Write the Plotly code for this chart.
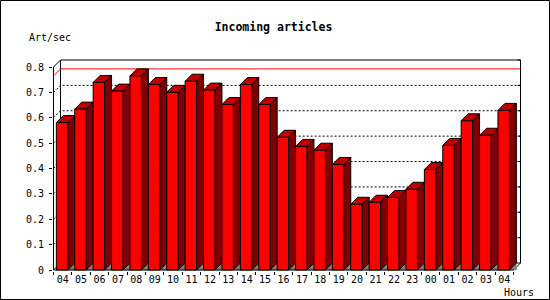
import plotly.graph_objects as go

# ---------------- data ----------------
hours = ["04", "05", "06", "07", "08", "09", "10", "11", "12", "13", "14", "15", "16",
         "17", "18", "19", "20", "21", "22", "23", "00", "01", "02", "03", "04"]
rates = [0.581, 0.634, 0.739, 0.705, 0.765, 0.731, 0.700, 0.744, 0.709, 0.652, 0.731, 0.652,
         0.523, 0.487, 0.472, 0.416, 0.259, 0.267, 0.286, 0.318, 0.396, 0.491, 0.588, 0.531, 0.629]
y_ticks = [0, 0.1, 0.2, 0.3, 0.4, 0.5, 0.6, 0.7, 0.8]
y_tick_text = ["0", "0.1", "0.2", "0.3", "0.4", "0.5", "0.6", "0.7", "0.8"]
title_text = "Incoming articles"
y_title = "Art/sec"
x_title = "Hours"

# ---------------- layout constants ----------------
W, H = 550, 300
ML, MR, MT, MB = 53, 25, 57, 29
SLOT_PX = 18.4          # pixels per category slot
UNIT_PX = 253.75        # pixels per 1.0 of value
DEPTH_PX = 7            # 3D depth offset in pixels
X0_PX = 53.5            # pixel of left edge of first slot
Y0_PX = 270             # pixel of value 0
FRONT_L, FRONT_R = -0.345, 0.275   # front face extents relative to slot centre
FONT = "DejaVu Sans Mono"

n = len(rates)
dx = DEPTH_PX / SLOT_PX
dy = DEPTH_PX / UNIT_PX
x_left = -0.5
x_right = n - 0.5
y_top = y_ticks[-1]

xr = [x_left - (X0_PX - ML) / SLOT_PX, x_left + (W - MR - X0_PX) / SLOT_PX]
yr = [-(H - MB - Y0_PX) / UNIT_PX, (Y0_PX - MT) / UNIT_PX]

fig = go.Figure()


def add_path(xs, ys, color="black", dash=None, fill=None, fillcolor=None, width=1):
    fig.add_trace(go.Scatter(
        x=xs, y=ys, mode="lines", hoverinfo="skip", showlegend=False,
        line=dict(color=color, width=width, dash=dash),
        fill=fill, fillcolor=fillcolor,
    ))


# back plane (white) with frame
bx0, bx1 = x_left + dx, x_right + dx
add_path([bx0, bx1, bx1, bx0, bx0], [dy, dy, y_top + dy, y_top + dy, dy],
         fill="toself", fillcolor="white")

# dotted grid lines (front axis -> back plane -> across)
gx, gy = [], []
for v in y_ticks[1:-1]:
    gx += [x_left, x_left + dx, bx1, None]
    gy += [v, v + dy, v + dy, None]
add_path(gx, gy, dash="2px,2px")

# right-side tick marks on the back plane
rx, ry = [], []
for v in y_ticks[1:]:
    rx += [bx1 - 3 / SLOT_PX, bx1, None]
    ry += [v + dy, v + dy, None]
add_path(rx, ry)

# top-left diagonal of frame and floor diagonals
add_path([x_left, x_left + dx], [y_top, y_top + dy])
add_path([x_left, x_left + dx], [0, dy])
add_path([x_right, x_right + dx], [0, dy])

# maximum line (red)
m = max(rates)
add_path([x_left, x_left + dx, bx1], [m, m + dy, m + dy], color="red")

# bars: floor triangles, sides, tops, fronts
fx, fy, sx, sy, tx, ty, px, py = [], [], [], [], [], [], [], []
for i, v in enumerate(rates):
    a, b = i + FRONT_L, i + FRONT_R
    fx += [b, b + dx, b + dx, b, None]
    fy += [0, 0, dy, 0, None]
    sx += [b, b + dx, b + dx, b, b, None]
    sy += [0, dy, v + dy, v, 0, None]
    tx += [a, b, b + dx, a + dx, a, None]
    ty += [v, v, v + dy, v + dy, v, None]
    px += [a, b, b, a, a, None]
    py += [0, 0, v, v, 0, None]
add_path(fx, fy, color="#808080", fill="toself", fillcolor="#808080", width=0.5)
add_path(sx, sy, fill="toself", fillcolor="#800000")
add_path(tx, ty, fill="toself", fillcolor="#C00000")
add_path(px, py, fill="toself", fillcolor="#FF0000")

# front axes lines
add_path([x_left, x_left], [0, y_top])
add_path([x_left, x_right], [0, 0])

fig.update_layout(
    width=W, height=H,
    margin=dict(l=ML, r=MR, t=MT, b=MB),
    paper_bgcolor="white", plot_bgcolor="white",
    font=dict(family=FONT, size=10, color="black"),
    title=dict(text=title_text, x=273.5 / W, xref="container", xanchor="center",
               y=1 - 27 / H, yref="container", yanchor="middle",
               font=dict(family=FONT, size=11.5, color="black", weight="bold")),
    xaxis=dict(range=xr, showgrid=False, zeroline=False, showline=False,
               tickmode="array", tickvals=list(range(n)), ticktext=hours,
               ticks="", tickfont=dict(family=FONT, size=10), ticklabelstandoff=1,
               minor=dict(tickmode="array", tickvals=[k - 0.5 for k in range(n + 1)],
                          ticks="outside", ticklen=3, tickcolor="black", showgrid=False),
               fixedrange=True),
    yaxis=dict(range=yr, showgrid=False, zeroline=False, showline=False,
               tickmode="array", tickvals=y_ticks, ticktext=y_tick_text,
               ticks="outside", ticklen=3, tickcolor="black", ticklabelstandoff=3,
               tickfont=dict(family=FONT, size=10), fixedrange=True),
    annotations=[
        dict(text=y_title, xref="paper", yref="paper",
             x=(50 - ML) / (W - ML - MR), y=(H - MB - 37) / (H - MT - MB),
             xanchor="center", yanchor="middle", showarrow=False,
             font=dict(family=FONT, size=10)),
        dict(text=x_title, xref="paper", yref="paper",
             x=(518.5 - ML) / (W - ML - MR), y=(H - MB - 292) / (H - MT - MB),
             xanchor="center", yanchor="middle", showarrow=False,
             font=dict(family=FONT, size=10)),
    ],
    shapes=[dict(type="rect", xref="paper", yref="paper",
                 x0=(0.5 - ML) / (W - ML - MR), x1=(W - 0.5 - ML) / (W - ML - MR),
                 y0=(H - MB - (H - 0.5)) / (H - MT - MB), y1=(H - MB - 0.5) / (H - MT - MB),
                 line=dict(color="black", width=1))],
)

fig.write_html("out.html")
